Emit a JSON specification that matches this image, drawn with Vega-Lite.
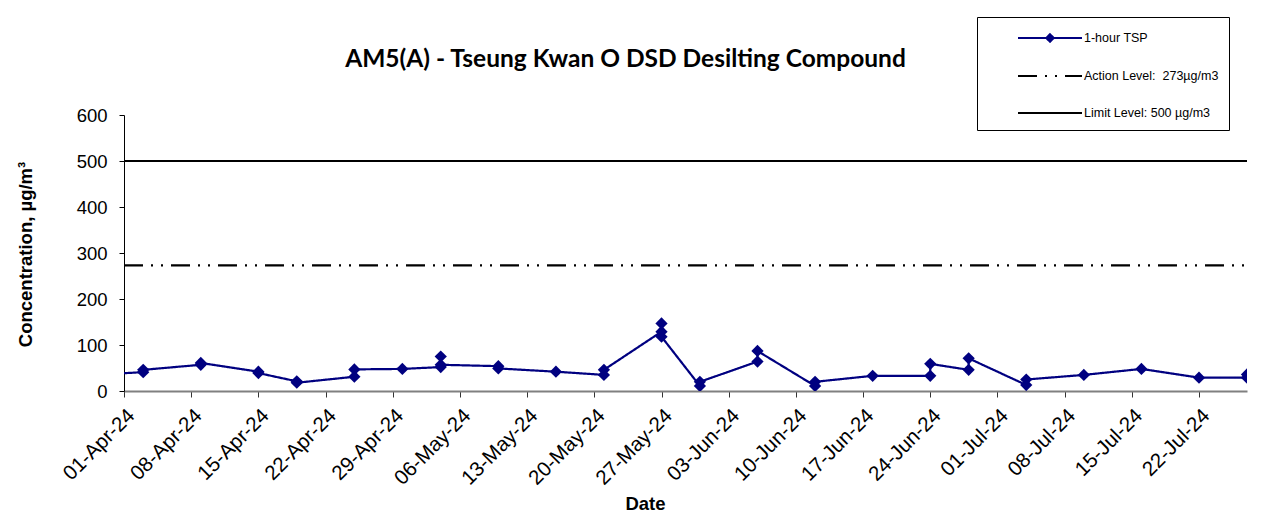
{
  "$schema": "https://vega.github.io/schema/vega-lite/v6.json",
  "width": 1123,
  "height": 276,
  "autosize": "none",
  "padding": {"left": 124, "top": 115, "right": 38, "bottom": 129},
  "background": "white",
  "title": {
    "text": "AM5(A) - Tseung Kwan O DSD Desilting Compound",
    "font": "Lato",
    "fontSize": 24.5,
    "fontWeight": "bold",
    "color": "black",
    "anchor": "middle",
    "frame": "group",
    "dx": -60,
    "offset": 0,
    "dy": 56
  },
  "data": {
    "values": [
      {"series": "1-hour TSP", "date": "2024-03-28", "value": 34},
      {"series": "1-hour TSP", "date": "2024-04-03", "value": 41},
      {"series": "1-hour TSP", "date": "2024-04-03", "value": 46},
      {"series": "1-hour TSP", "date": "2024-04-09", "value": 57},
      {"series": "1-hour TSP", "date": "2024-04-09", "value": 61},
      {"series": "1-hour TSP", "date": "2024-04-15", "value": 42},
      {"series": "1-hour TSP", "date": "2024-04-15", "value": 39},
      {"series": "1-hour TSP", "date": "2024-04-19", "value": 21},
      {"series": "1-hour TSP", "date": "2024-04-19", "value": 18},
      {"series": "1-hour TSP", "date": "2024-04-25", "value": 31},
      {"series": "1-hour TSP", "date": "2024-04-25", "value": 47},
      {"series": "1-hour TSP", "date": "2024-04-30", "value": 48},
      {"series": "1-hour TSP", "date": "2024-05-04", "value": 52},
      {"series": "1-hour TSP", "date": "2024-05-04", "value": 75},
      {"series": "1-hour TSP", "date": "2024-05-04", "value": 57},
      {"series": "1-hour TSP", "date": "2024-05-10", "value": 54},
      {"series": "1-hour TSP", "date": "2024-05-10", "value": 49},
      {"series": "1-hour TSP", "date": "2024-05-16", "value": 42},
      {"series": "1-hour TSP", "date": "2024-05-21", "value": 35},
      {"series": "1-hour TSP", "date": "2024-05-21", "value": 46},
      {"series": "1-hour TSP", "date": "2024-05-27", "value": 129},
      {"series": "1-hour TSP", "date": "2024-05-27", "value": 147},
      {"series": "1-hour TSP", "date": "2024-05-27", "value": 118},
      {"series": "1-hour TSP", "date": "2024-05-31", "value": 11},
      {"series": "1-hour TSP", "date": "2024-05-31", "value": 20},
      {"series": "1-hour TSP", "date": "2024-06-06", "value": 64},
      {"series": "1-hour TSP", "date": "2024-06-06", "value": 87},
      {"series": "1-hour TSP", "date": "2024-06-12", "value": 11},
      {"series": "1-hour TSP", "date": "2024-06-12", "value": 20},
      {"series": "1-hour TSP", "date": "2024-06-18", "value": 33},
      {"series": "1-hour TSP", "date": "2024-06-24", "value": 33},
      {"series": "1-hour TSP", "date": "2024-06-24", "value": 59},
      {"series": "1-hour TSP", "date": "2024-06-28", "value": 46},
      {"series": "1-hour TSP", "date": "2024-06-28", "value": 71},
      {"series": "1-hour TSP", "date": "2024-07-04", "value": 13},
      {"series": "1-hour TSP", "date": "2024-07-04", "value": 25},
      {"series": "1-hour TSP", "date": "2024-07-10", "value": 35},
      {"series": "1-hour TSP", "date": "2024-07-16", "value": 48},
      {"series": "1-hour TSP", "date": "2024-07-22", "value": 29},
      {"series": "1-hour TSP", "date": "2024-07-27", "value": 29},
      {"series": "1-hour TSP", "date": "2024-07-27", "value": 36},
      {"series": "Action Level:\u00a0 273µg/m3", "date": "2024-04-01", "value": 273},
      {"series": "Action Level:\u00a0 273µg/m3", "date": "2024-07-27", "value": 273},
      {"series": "Limit Level: 500 µg/m3", "date": "2024-04-01", "value": 500},
      {"series": "Limit Level: 500 µg/m3", "date": "2024-07-27", "value": 500}
    ]
  },
  "encoding": {
    "x": {
      "field": "date",
      "type": "temporal",
      "scale": {
        "type": "utc",
        "domain": [
          {"year": 2024, "month": "apr", "date": 1, "utc": true},
          {"year": 2024, "month": "jul", "date": 27, "utc": true}
        ]
      },
      "axis": {
        "values": [
          {"year": 2024, "month": "apr", "date": 1, "utc": true},
          {"year": 2024, "month": "apr", "date": 8, "utc": true},
          {"year": 2024, "month": "apr", "date": 15, "utc": true},
          {"year": 2024, "month": "apr", "date": 22, "utc": true},
          {"year": 2024, "month": "apr", "date": 29, "utc": true},
          {"year": 2024, "month": "may", "date": 6, "utc": true},
          {"year": 2024, "month": "may", "date": 13, "utc": true},
          {"year": 2024, "month": "may", "date": 20, "utc": true},
          {"year": 2024, "month": "may", "date": 27, "utc": true},
          {"year": 2024, "month": "jun", "date": 3, "utc": true},
          {"year": 2024, "month": "jun", "date": 10, "utc": true},
          {"year": 2024, "month": "jun", "date": 17, "utc": true},
          {"year": 2024, "month": "jun", "date": 24, "utc": true},
          {"year": 2024, "month": "jul", "date": 1, "utc": true},
          {"year": 2024, "month": "jul", "date": 8, "utc": true},
          {"year": 2024, "month": "jul", "date": 15, "utc": true},
          {"year": 2024, "month": "jul", "date": 22, "utc": true}
        ],
        "format": "%d-%b-%y",
        "labelAngle": -45,
        "labelAlign": "right",
        "labelBaseline": "top",
        "labelPadding": 8,
        "labelFont": "Liberation Sans",
        "labelFontSize": 20.5,
        "labelColor": "black",
        "labelOverlap": false,
        "labelFlush": false,
        "domainColor": "#808080",
        "domainWidth": 2,
        "tickColor": "#333333",
        "tickSize": 6,
        "tickWidth": 1,
        "grid": false,
        "title": "Date",
        "titleFont": "Liberation Sans",
        "titleFontSize": 18.5,
        "titleFontWeight": "bold",
        "titleColor": "black",
        "titleX": 521,
        "titleY": 118,
        "titleBaseline": "alphabetic"
      }
    },
    "y": {
      "field": "value",
      "type": "quantitative",
      "scale": {"domain": [0, 600], "nice": false},
      "axis": {
        "values": [0, 100, 200, 300, 400, 500, 600],
        "labelFont": "Liberation Sans",
        "labelFontSize": 18.5,
        "labelColor": "black",
        "labelPadding": 12,
        "domainColor": "black",
        "tickColor": "black",
        "tickSize": 5,
        "grid": false,
        "title": "Concentration, µg/m³",
        "titleFont": "Liberation Sans",
        "titleFontSize": 18.5,
        "titleFontWeight": "bold",
        "titleColor": "black",
        "titleX": -93,
        "titleY": 139,
        "titleBaseline": "alphabetic"
      }
    }
  },
  "layer": [
    {
      "mark": {"type": "line", "strokeWidth": 2.2, "clip": true},
      "encoding": {
        "color": {
          "field": "series",
          "type": "nominal",
          "scale": {
            "domain": ["1-hour TSP", "Action Level:\u00a0 273µg/m3", "Limit Level: 500 µg/m3"],
            "range": ["#000080", "black", "black"]
          },
          "legend": {
            "title": null,
            "orient": "none",
            "legendX": 853,
            "legendY": -98,
            "symbolType": {"expr": "datum.value === '1-hour TSP' ? 'M-3.2,0H3.2M0,-0.38L0.38,0L0,0.38L-0.38,0ZM0,-0.25L0.25,0L0,0.25L-0.25,0ZM0,-0.12L0.12,0L0,0.12L-0.12,0Z' : 'M-3.2,0H3.2'"},
            "symbolSize": 400,
            "symbolStrokeWidth": 2,
            "symbolOffset": 52,
            "labelOffset": 23,
            "labelFont": "Liberation Sans",
            "labelFontSize": 12.5,
            "labelColor": "black",
            "labelLimit": 300,
            "rowPadding": 19,
            "padding": 10,
            "strokeColor": "black",
            "fillColor": "white"
          }
        },
        "strokeDash": {
          "field": "series",
          "type": "nominal",
          "scale": {
            "domain": ["1-hour TSP", "Action Level:\u00a0 273µg/m3", "Limit Level: 500 µg/m3"],
            "range": [[1, 0], [19, 8, 2, 8, 2, 8], [1, 0]]
          },
          "legend": {
            "title": null,
            "orient": "none",
            "legendX": 853,
            "legendY": -98,
            "symbolType": {"expr": "datum.value === '1-hour TSP' ? 'M-3.2,0H3.2M0,-0.38L0.38,0L0,0.38L-0.38,0ZM0,-0.25L0.25,0L0,0.25L-0.25,0ZM0,-0.12L0.12,0L0,0.12L-0.12,0Z' : 'M-3.2,0H3.2'"},
            "symbolSize": 400,
            "symbolStrokeWidth": 2,
            "symbolOffset": 52,
            "labelOffset": 23,
            "labelFont": "Liberation Sans",
            "labelFontSize": 12.5,
            "labelColor": "black",
            "labelLimit": 300,
            "rowPadding": 19,
            "padding": 10,
            "strokeColor": "black",
            "fillColor": "white"
          }
        }
      }
    },
    {
      "transform": [{"filter": "datum.series === '1-hour TSP'"}],
      "mark": {"type": "point", "shape": "diamond", "filled": true, "size": 150, "color": "#000080", "opacity": 1, "clip": true}
    }
  ],
  "config": {
    "view": {"stroke": null}
  }
}
